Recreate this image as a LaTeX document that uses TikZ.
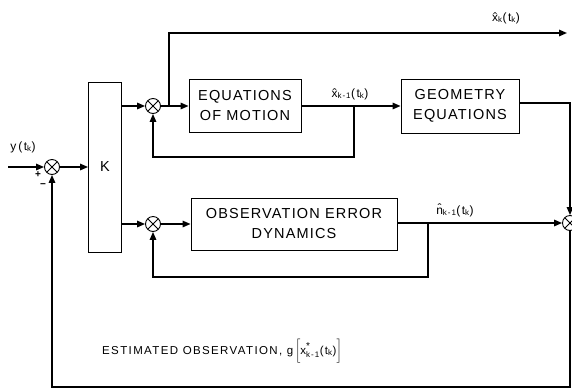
\documentclass[tikz,border=0pt]{standalone}
\usepackage{fontspec}
\setmainfont{Liberation Sans}
\newfontfamily\lett[LetterSpace=8]{Liberation Sans}
\newfontfamily\lettw[LetterSpace=12]{Liberation Sans}
\usetikzlibrary{arrows.meta}
\begin{document}
\begin{tikzpicture}[x=1pt,y=-1pt,
  conn/.style={line width=1.5pt},
  arr/.style={conn,-{Triangle[length=8pt,width=6.5pt]}},
  blk/.style={draw,line width=0.9pt,inner sep=0pt,align=center,font=\lett\fontsize{14.5}{20}\selectfont},
  sumj/.style={circle,draw,line width=0.9pt,minimum size=15pt,inner sep=0pt,
    path picture={\draw[line width=0.8pt] (path picture bounding box.north west)--(path picture bounding box.south east)
      (path picture bounding box.north east)--(path picture bounding box.south west);}},
  lbl/.style={inner sep=0pt,font=\lettw\fontsize{12}{14}\selectfont},
  sgn/.style={inner sep=0pt,font=\bfseries\fontsize{10}{10}\selectfont}]
\useasboundingbox (0,0) rectangle (572,389);
\fill[white] (0,0) rectangle (572,389);
\clip (0,0) rectangle (572,389);

% blocks
\node[blk,minimum width=33pt,minimum height=170pt] (K) at (105,167) {K};
\node[blk,minimum width=112pt,minimum height=53pt] (eom) at (245,106) {EQUATIONS\\OF MOTION};
\node[blk,minimum width=118pt,minimum height=54pt] (geo) at (460,106) {GEOMETRY\\EQUATIONS};
\node[blk,minimum width=206pt,minimum height=52pt] (obs) at (294,224) {OBSERVATION ERROR\\DYNAMICS};

% summing junctions
\node[sumj] (s0) at (52,167) {};
\node[sumj] (s1) at (153,106) {};
\node[sumj] (s2) at (153,224) {};
\node[sumj] (s3) at (570,223) {};

% helper coordinates
\coordinate (in) at (8,167);
\coordinate (b1) at (169,106);
\coordinate (xo) at (567,33);
\coordinate (b2) at (354,106);
\coordinate (b3) at (428,224);
\coordinate (fb) at (300,387);

% connectors
\draw[arr] (in) -- (s0.west);
\draw[arr] (s0.east) -- (K.west);
\draw[arr] (K.east |- s1) -- (s1.west);
\draw[arr] (s1.east) -- (eom.west);
\draw[arr] (b1) |- (xo);
\draw[arr] (eom.east) -- (geo.west);
\draw[arr] (b2) -- ++(0,51) -| (s1.south);
\draw[arr] (geo.east) ++(0,-3) -| (s3.north);
\draw[arr] (K.east |- s2) -- (s2.west);
\draw[arr] (s2.east) -- (obs.west);
\draw[arr] (obs.east |- s3) -- (s3.west);
\draw[arr] (b3) -- ++(0,53) -| (s2.south);
\draw[arr] (s3.south) |- (fb) -| (s0.south);

% labels
\node[lbl] (ly) at (23,147) {y\,(t\textsubscript{k})};
\node[sgn] (lp) at (38,175) {+};
\node[sgn] (lm) at (43,186) {\textminus};
\node[lbl] (lxk) at (506,18) {\^{x}\textsubscript{k}(t\textsubscript{k})};
\node[lbl] (lxk1) at (350,94) {\^{x}\textsubscript{k-1}(t\textsubscript{k})};
\node[lbl] (ln) at (455,210) {\^{n}\textsubscript{k-1}(t\textsubscript{k})};
\node[inner sep=0pt,anchor=west,font=\lettw\fontsize{11.5}{13}\selectfont] (lest) at (102,351)
  {ESTIMATED OBSERVATION,\ g\,$\biggl[\mbox{x}^{\mbox{\fontsize{10}{10}\selectfont *}}_{\mbox{\fontsize{8}{9}\selectfont k-1}}\mbox{(t\textsubscript{k})}\biggr]$};
\end{tikzpicture}
\end{document}
